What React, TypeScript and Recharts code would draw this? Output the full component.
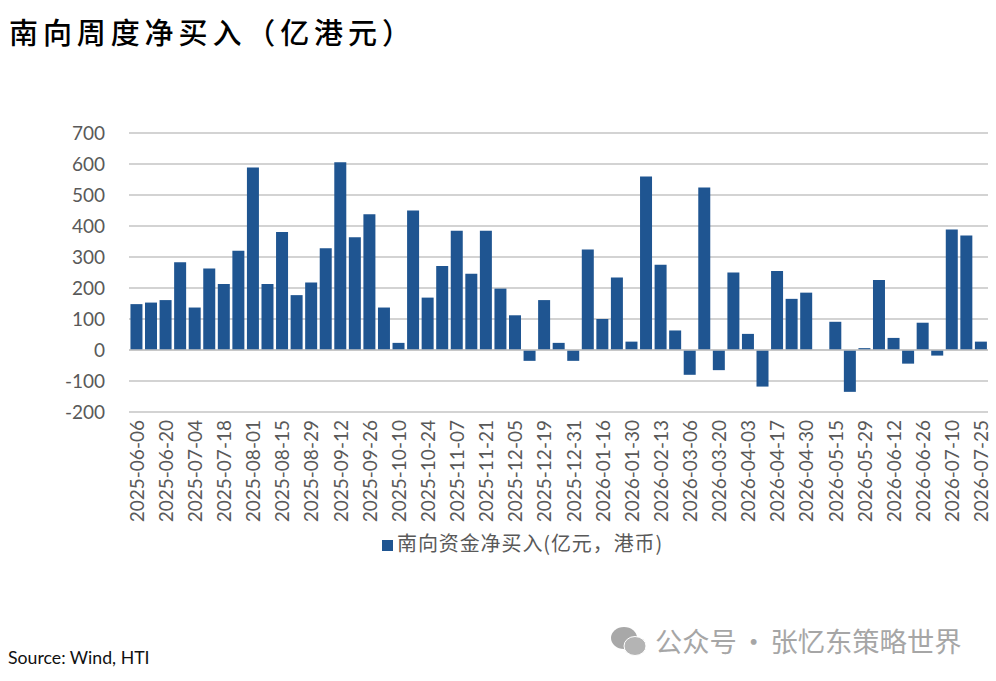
import React from "react";
import { BarChart, Bar, XAxis, YAxis, CartesianGrid, Legend, ReferenceLine } from "recharts";

const dates = [
  "2025-06-06","2025-06-13","2025-06-20","2025-06-27","2025-07-04","2025-07-11","2025-07-18","2025-07-25",
  "2025-08-01","2025-08-08","2025-08-15","2025-08-22","2025-08-29","2025-09-05","2025-09-12","2025-09-19",
  "2025-09-26","2025-10-03","2025-10-10","2025-10-17","2025-10-24","2025-10-31","2025-11-07","2025-11-14",
  "2025-11-21","2025-11-28","2025-12-05","2025-12-12","2025-12-19","2025-12-26","2025-12-31","2026-01-09",
  "2026-01-16","2026-01-23","2026-01-30","2026-02-06","2026-02-13","2026-02-27","2026-03-06","2026-03-13",
  "2026-03-20","2026-03-27","2026-04-03","2026-04-10","2026-04-17","2026-04-24","2026-04-30","2026-05-08",
  "2026-05-15","2026-05-22","2026-05-29","2026-06-05","2026-06-12","2026-06-19","2026-06-26","2026-07-03",
  "2026-07-10","2026-07-17","2026-07-25",
];
const netBuy = [
  148,153,161,283,137,263,213,320,589,213,381,177,218,328,606,364,438,137,23,450,169,271,385,246,385,198,112,-35,161,23,
  -35,324,100,234,27,560,275,63,-80,524,-65,250,52,-118,255,165,185,0,91,-135,6,226,39,-44,88,-18,389,369,27,
];
const yTicks = [-200,-100,0,100,200,300,400,500,600,700];
const seriesName = "南向资金净买入(亿元，港币)";
const titleText = "南向周度净买入（亿港元）";
const sourceText = "Source: Wind, HTI";
const watermarkText = "公众号 · 张忆东策略世界";

const data = dates.map((date, i) => ({ date, value: netBuy[i] }));
const latin = "Lato, 'Noto Sans CJK SC', sans-serif";

export default function App() {
  return (
    <div style={{ position: "absolute", left: 0, top: 0, width: 996, height: 681, background: "#fff", overflow: "hidden" }}>
      <div style={{ position: "absolute", left: 9, top: 11, fontFamily: "'Noto Sans CJK SC', sans-serif", fontSize: 29, fontWeight: 500, letterSpacing: 4.9, color: "#000", whiteSpace: "nowrap", lineHeight: "40px" }}>{titleText}</div>
      <BarChart width={996} height={681} data={data} margin={{ top: 133, right: 8, bottom: 110, left: 0 }} barCategoryGap="10%">
        <CartesianGrid horizontal vertical={false} stroke="#c4c4c4" strokeWidth={1.5} />
        <XAxis dataKey="date" interval={1} axisLine={false} tickLine={false} angle={-90} textAnchor="end" height={130} tick={{ fontFamily: latin, fontSize: 19, fill: "#595959", dx: -6, dy: 2 }} tickMargin={0} />
        <YAxis domain={[-200, 700]} ticks={yTicks} width={129} axisLine={false} tickLine={false} tick={{ fontFamily: latin, fontSize: 19, fill: "#595959" }} tickMargin={18} />
        <ReferenceLine y={0} stroke="#c4c4c4" strokeWidth={1.5} />
        <Bar dataKey="value" name={seriesName} fill="#1f5591" isAnimationActive={false} />
        <Legend verticalAlign="bottom" align="left" iconType="square" iconSize={11} wrapperStyle={{ left: 382, top: 528, width: 320, fontFamily: "'Noto Sans CJK SC', sans-serif", fontSize: 20, letterSpacing: 0.9, color: "#595959" }} formatter={(v: string) => <span style={{ color: "#595959" }}>{v}</span>} />
      </BarChart>
      <div style={{ position: "absolute", left: 8, top: 647, fontFamily: latin, fontSize: 17.7, color: "#111", whiteSpace: "nowrap" }}>{sourceText}</div>
      <svg style={{ position: "absolute", left: 610, top: 624 }} width={40} height={36}>
        <ellipse cx={14} cy={14} rx={13} ry={11} fill="#a8a8a8" />
        <ellipse cx={25} cy={22} rx={11} ry={9.5} fill="#b4b4b4" stroke="#fff" strokeWidth={1} />
      </svg>
      <div style={{ position: "absolute", left: 655, top: 623, fontFamily: "'Noto Sans CJK SC', sans-serif", fontSize: 27.3, wordSpacing: -3, color: "#a6a6a6", whiteSpace: "nowrap", lineHeight: "34px" }}>{watermarkText}</div>
    </div>
  );
}
